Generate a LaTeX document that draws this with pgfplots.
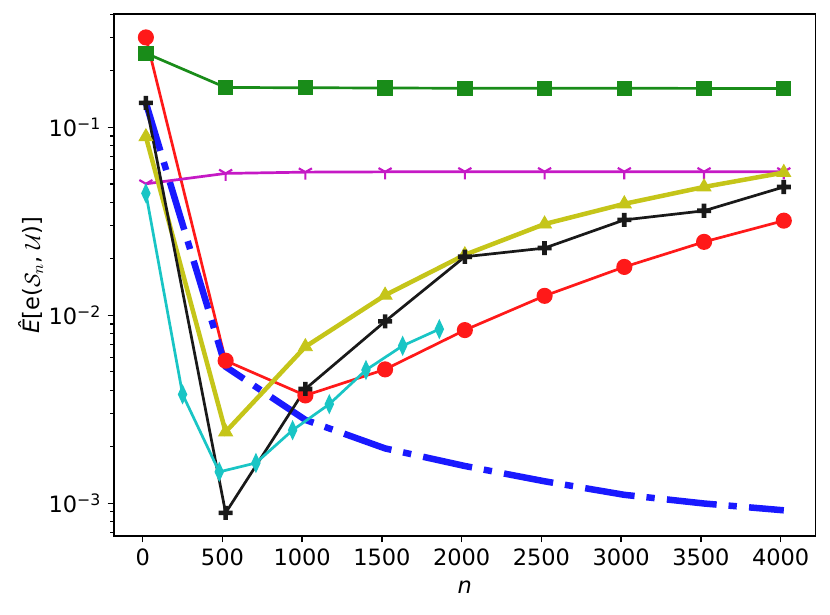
\documentclass[border=0pt]{standalone}
\usepackage{fontspec}
\setmainfont{DejaVu Sans}
\usepackage{pgfplots}
\pgfplotsset{compat=1.18}
\definecolor{cred}{RGB}{255,25,25}
\definecolor{cblue}{RGB}{25,25,255}
\definecolor{cgreen}{RGB}{25,140,25}
\definecolor{cmag}{RGB}{197,25,197}
\definecolor{cyel}{RGB}{197,197,25}
\definecolor{cblk}{RGB}{25,25,25}
\definecolor{ccyan}{RGB}{25,197,197}
\pgfdeclareplotmark{Pfill}{%
  \pgfmathsetlengthmacro{\s}{\pgfplotmarksize}%
  \pgfmathsetlengthmacro{\w}{\pgfplotmarksize/3}%
  \pgfpathmoveto{\pgfpoint{-\w}{-\s}}%
  \pgfpathlineto{\pgfpoint{\w}{-\s}}%
  \pgfpathlineto{\pgfpoint{\w}{-\w}}%
  \pgfpathlineto{\pgfpoint{\s}{-\w}}%
  \pgfpathlineto{\pgfpoint{\s}{\w}}%
  \pgfpathlineto{\pgfpoint{\w}{\w}}%
  \pgfpathlineto{\pgfpoint{\w}{\s}}%
  \pgfpathlineto{\pgfpoint{-\w}{\s}}%
  \pgfpathlineto{\pgfpoint{-\w}{\w}}%
  \pgfpathlineto{\pgfpoint{-\s}{\w}}%
  \pgfpathlineto{\pgfpoint{-\s}{-\w}}%
  \pgfpathlineto{\pgfpoint{-\w}{-\w}}%
  \pgfpathclose
  \pgfusepathqfill}
\pgfdeclareplotmark{tridown}{%
  \pgfpathmoveto{\pgfpointorigin}%
  \pgfpathlineto{\pgfpoint{0pt}{-\pgfplotmarksize}}%
  \pgfpathmoveto{\pgfpointorigin}%
  \pgfpathlineto{\pgfpoint{-0.866\pgfplotmarksize}{0.5\pgfplotmarksize}}%
  \pgfpathmoveto{\pgfpointorigin}%
  \pgfpathlineto{\pgfpoint{0.866\pgfplotmarksize}{0.5\pgfplotmarksize}}%
  \pgfusepathqstroke}
\begin{document}
\begin{tikzpicture}
\begin{axis}[
  name=ax,
  scale only axis,
  width=388.6bp, height=289.1bp,
  xmin=-180, xmax=4220,
  ymode=log, ymin=6.7e-4, ymax=0.401,
  xtick={0,500,...,4000},
  ytick={0.001,0.01,0.1},
  yticklabels={{10\textsuperscript{−3}},{10\textsuperscript{−2}},{10\textsuperscript{−1}}},
  minor ytick={7e-4,8e-4,9e-4,2e-3,3e-3,4e-3,5e-3,6e-3,7e-3,8e-3,9e-3,2e-2,3e-2,4e-2,5e-2,6e-2,7e-2,8e-2,9e-2,0.2,0.3,0.4},
  /pgf/number format/assume math mode=true,
  /pgf/number format/set thousands separator={},
  tick align=outside,
  xtick pos=bottom, ytick pos=left,
  major tick length=3.5bp, minor tick length=2bp,
  every tick/.style={black, line width=0.8bp},
  minor tick style={line width=0.6bp},
  axis line style={line width=0.8bp},
  tick label style={font=\fontsize{12.5}{15}\selectfont},
  xlabel={\textit{n}},
  ylabel={\textit{Ê}[e($\mathcal{S}_n$, $\mathcal{U}$)]},
  xlabel style={at={(axis description cs:0.5,-0.0977)}, anchor=center, font=\fontsize{12.5}{15}\selectfont},
  ylabel style={at={(axis description cs:-0.1183,0.5)}, anchor=center, rotate=0, font=\fontsize{12.5}{15}\selectfont},
  clip=true,
]
% red circles
\addplot[cred, line width=1.5bp, mark=*, mark size=3.7bp, mark options={solid, fill=cred, draw=cred}]
coordinates {(20,0.301) (520,0.00574) (1020,0.00375) (1520,0.00516) (2020,0.00835) (2520,0.0127) (3020,0.0181) (3520,0.0246) (4020,0.0319)};
% blue dash-dot
\addplot[cblue, line width=3.6bp, dash pattern=on 27.7bp off 6.6bp on 4.6bp off 6.8bp]
coordinates {(20,0.135) (520,0.00533) (1020,0.00278) (1520,0.00196) (2020,0.00158) (2520,0.00131) (3020,0.00111) (3520,0.000998) (4020,0.000918)};
% green squares
\addplot[cgreen, line width=1.5bp, mark=square*, mark size=3.5bp, mark options={solid, fill=cgreen, draw=cgreen}]
coordinates {(20,0.248) (520,0.163) (1020,0.1625) (1520,0.162) (2020,0.1615) (2520,0.1615) (3020,0.1615) (3520,0.1612) (4020,0.1612)};
% magenta tri_down
\addplot[cmag, line width=1.5bp, mark=tridown, mark size=4.2bp, mark options={solid, draw=cmag, line width=1.2bp}]
coordinates {(20,0.0501) (520,0.0569) (1020,0.0578) (1520,0.0580) (2020,0.0581) (2520,0.0581) (3020,0.0581) (3520,0.0581) (4020,0.0581)};
% yellow triangles
\addplot[cyel, line width=2.5bp, mark=triangle*, mark size=4.4bp, mark options={solid, fill=cyel, draw=cyel, line width=0.5bp}]
coordinates {(20,0.0891) (520,0.0024) (1020,0.00681) (1520,0.0128) (2020,0.0210) (2520,0.0306) (3020,0.0392) (3520,0.0482) (4020,0.0575)};
% black filled plus
\addplot[cblk, line width=1.5bp, mark=Pfill, mark size=3.9bp, mark options={solid, fill=cblk}]
coordinates {(20,0.135) (520,0.00089) (1020,0.00406) (1520,0.00929) (2020,0.0205) (2520,0.0228) (3020,0.0322) (3520,0.0360) (4020,0.0482)};
% cyan thin diamonds
\addplot[ccyan, line width=1.5bp, mark=diamond*, mark size=3.9bp, mark options={solid, fill=ccyan, draw=ccyan, xscale=0.62}]
coordinates {(20,0.0446) (250,0.0038) (480,0.00147) (710,0.00164) (940,0.00245) (1170,0.00337) (1400,0.00512) (1630,0.00689) (1860,0.00845)};
\end{axis}
\pgfresetboundingbox
\path[use as bounding box] ([xshift=-63.13bp,yshift=-43.2bp]ax.south west) rectangle ([xshift=7.92bp,yshift=7.75bp]ax.north east);
\end{tikzpicture}
\end{document}
